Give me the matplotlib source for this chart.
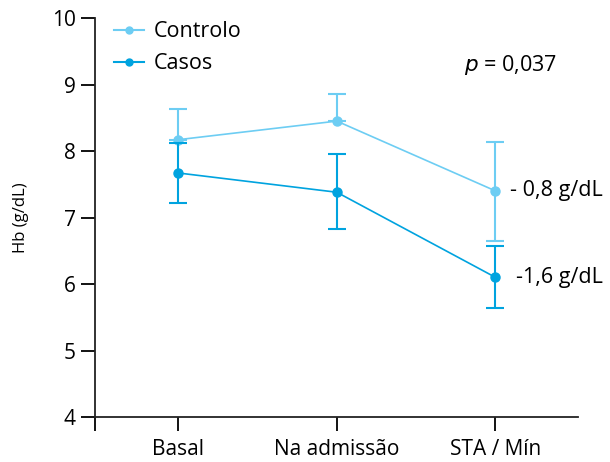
import matplotlib.pyplot as plt
from matplotlib.lines import Line2D

categories = ["Basal", "Na admissão", "STA / Mín"]
controlo = [8.17, 8.45, 7.40]
controlo_err_low = [0, 0, 0.75]
controlo_err_high = [0.46, 0.41, 0.74]
casos = [7.67, 7.38, 6.10]
casos_err_low = [0.45, 0.55, 0.46]
casos_err_high = [0.45, 0.57, 0.47]

light = "#6dcdf3"
dark = "#00a3df"

plt.rcParams['font.family'] = ['Open Sans', 'DejaVu Sans']

fig = plt.figure(figsize=(6.1, 4.62), dpi=100)
ax = fig.add_axes([0.1557, 0.0974, 0.7918, 0.8636])

x = list(range(len(categories)))
ax.errorbar(x, controlo, yerr=[controlo_err_low, controlo_err_high], color=light,
            marker="o", markersize=6.5, linewidth=1.2, elinewidth=1.5,
            capsize=6.5, capthick=1.5, zorder=2)
ax.errorbar(x, casos, yerr=[casos_err_low, casos_err_high], color=dark,
            marker="o", markersize=6.5, linewidth=1.2, elinewidth=1.5,
            capsize=6.5, capthick=1.5, zorder=3)

ax.set_xlim(-0.524, 2.52)
ax.set_ylim(4, 10)
ax.set_xticks(x)
ax.set_xticklabels(categories, fontsize=15)
ax.set_xticks([-0.524], minor=True)
ax.set_yticks(range(4, 11))
ax.tick_params(axis="y", labelsize=15, length=10, width=1.3, direction="out", pad=4)
ax.tick_params(axis="x", which="both", length=10, width=1.3, direction="out", pad=6)
ax.set_ylabel("Hb (g/dL)", fontsize=12, labelpad=16)

for s in ["top", "right"]:
    ax.spines[s].set_visible(False)
for s in ["left", "bottom"]:
    ax.spines[s].set_linewidth(1.3)
    ax.spines[s].set_color("#222222")

handles = [Line2D([], [], color=light, marker="o", markersize=5, linewidth=1.5),
           Line2D([], [], color=dark, marker="o", markersize=5, linewidth=1.5)]
ax.legend(handles, ["Controlo", "Casos"], loc="upper left", bbox_to_anchor=(0.0, 1.04),
          frameon=False, fontsize=15.5, handlelength=1.4, handletextpad=0.45,
          labelspacing=0.5)

ax.text(2.095, 9.29, "$p$ = 0,037", fontsize=15.5, ha="center", va="center")
ax.text(2.09, 7.40, "- 0,8 g/dL", fontsize=15.5, ha="left", va="center")
ax.text(2.13, 6.10, "-1,6 g/dL", fontsize=15.5, ha="left", va="center")

plt.savefig("out.png", dpi=100)
